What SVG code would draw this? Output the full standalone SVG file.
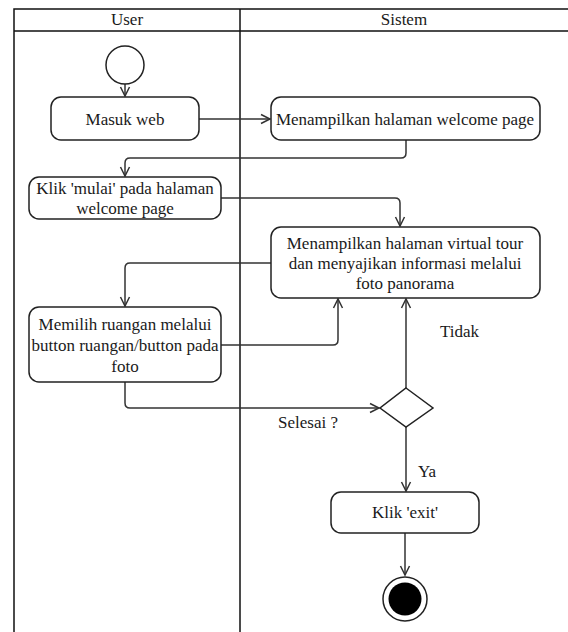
<svg xmlns="http://www.w3.org/2000/svg" width="568" height="632" viewBox="0 0 568 632">
<style>
text{font-family:'Liberation Serif','Tinos','DejaVu Serif',serif;font-size:17px;fill:#1a1a1a}
.c{text-anchor:middle}
.lane{stroke:#111;stroke-width:1.5;fill:none}
.box{fill:#fff;stroke:#222;stroke-width:1.5}
.edge{fill:none;stroke:#333;stroke-width:1.5}
</style>
<defs>
<marker id="arr" viewBox="-10 -6 12 12" refX="0" refY="0" markerWidth="12" markerHeight="12" markerUnits="userSpaceOnUse" orient="auto">
<path d="M-9,-4.5 L0,0 L-9,4.5" fill="none" stroke="#333" stroke-width="1.5"/>
</marker>
</defs>
<rect width="568" height="632" fill="#fff"/>
<g id="swimlanes">
<path class="lane" d="M14,632 V9 H568 M14,31 H568 M240,9 V632"/>
<text class="c" x="127" y="25">User</text>
<text class="c" x="404" y="25">Sistem</text>
</g>
<g id="connectors">
<path class="edge" d="M125,84 V96" marker-end="url(#arr)"/>
<path class="edge" d="M199,119 H270" marker-end="url(#arr)"/>
<path class="edge" d="M406,140 V153 Q406,158 401,158 H130 Q125,158 125,163 V176" marker-end="url(#arr)"/>
<path class="edge" d="M221,198 H395 Q400,198 400,203 V226" marker-end="url(#arr)"/>
<path class="edge" d="M271,263 H130 Q125,263 125,268 V306" marker-end="url(#arr)"/>
<path class="edge" d="M221,345 H333 Q338,345 338,340 V299" marker-end="url(#arr)"/>
<path class="edge" d="M125,382 V403 Q125,408 130,408 H379" marker-end="url(#arr)"/>
<path class="edge" d="M406,388 V299" marker-end="url(#arr)"/>
<path class="edge" d="M406,427 V491" marker-end="url(#arr)"/>
<path class="edge" d="M405,533 V575" marker-end="url(#arr)"/>
<text x="278" y="428">Selesai ?</text>
<text x="440" y="337">Tidak</text>
<text x="418" y="477">Ya</text>
</g>
<g id="start">
<circle cx="125" cy="65" r="19" fill="#fff" stroke="#222" stroke-width="1.5"/>
</g>
<g id="masuk-web">
<rect class="box" x="51" y="97" width="148" height="43" rx="10"/>
<text class="c" x="125" y="125">Masuk web</text>
</g>
<g id="welcome-page">
<rect class="box" x="271" y="97" width="269" height="43" rx="10"/>
<text class="c" x="405" y="125">Menampilkan halaman welcome page</text>
</g>
<g id="klik-mulai">
<rect class="box" x="29" y="177" width="192" height="42" rx="10"/>
<text class="c" x="125" y="194">Klik 'mulai' pada halaman</text>
<text class="c" x="125" y="214">welcome page</text>
</g>
<g id="virtual-tour">
<rect class="box" x="271" y="227" width="269" height="71" rx="10"/>
<text class="c" x="405" y="249">Menampilkan halaman virtual tour</text>
<text class="c" x="405" y="269">dan menyajikan informasi melalui</text>
<text class="c" x="405" y="289">foto panorama</text>
</g>
<g id="memilih-ruangan">
<rect class="box" x="29" y="307" width="192" height="75" rx="10"/>
<text class="c" x="125" y="330">Memilih ruangan melalui</text>
<text class="c" x="125" y="351">button ruangan/button pada</text>
<text class="c" x="125" y="372">foto</text>
</g>
<g id="decision">
<polygon points="406,388 433,408 406,427 380,408" fill="#fff" stroke="#222" stroke-width="1.5"/>
</g>
<g id="klik-exit">
<rect class="box" x="331" y="492" width="148" height="41" rx="10"/>
<text class="c" x="405" y="518">Klik 'exit'</text>
</g>
<g id="end">
<circle cx="405" cy="599" r="22" fill="#fff" stroke="#222" stroke-width="1.5"/>
<circle cx="405" cy="599" r="16.5" fill="#000"/>
</g>
</svg>
